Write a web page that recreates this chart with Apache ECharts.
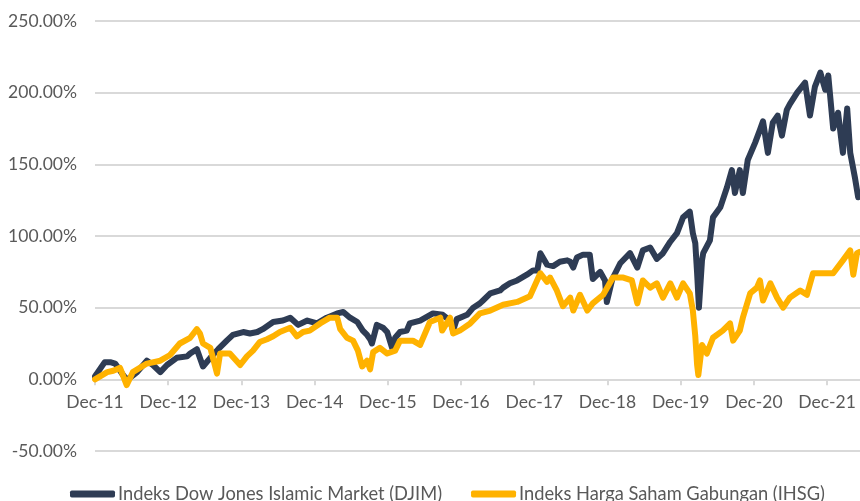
<!DOCTYPE html>
<html>
<head>
<meta charset="utf-8">
<script src="https://cdn.jsdelivr.net/npm/echarts@6/dist/echarts.min.js"></script>
<style>
  html, body { margin: 0; padding: 0; background: #fff; }
  #main { width: 860px; height: 501px; }
</style>
</head>
<body>
<div id="main"></div>
<script>
// months since Dec-11, cumulative return in %
var djim = [
  [0, 2], [0.3, 4], [1.6, 12], [2.5, 12], [3.3, 11], [4.6, 3], [5.2, 0], [5.7, 1], [6.9, 5],
  [8.5, 13], [9.5, 10], [10.7, 5], [11.8, 10], [13.4, 15], [15.1, 16], [15.6, 18], [16.7, 21],
  [17.7, 9], [18.9, 15], [20.2, 21], [21.6, 27], [22.6, 31], [24.3, 33], [25.4, 32], [26.6, 33],
  [27.5, 35], [29.2, 40], [30.8, 41], [32.0, 43], [33.3, 38], [34.8, 41], [36.4, 39], [38.0, 43],
  [39.7, 46], [40.7, 47], [41.8, 43], [43.0, 40], [43.9, 34], [44.6, 31], [45.1, 28], [45.4, 25],
  [46.2, 38], [47.2, 36], [47.9, 33], [48.7, 22], [49.2, 29], [50.0, 33], [51.1, 34], [51.6, 39],
  [53.3, 41], [55.4, 46], [57.0, 45], [58.2, 41], [58.7, 34], [59.3, 42], [61.0, 45], [62.0, 50],
  [63.1, 53], [63.6, 55], [64.8, 60], [66.4, 62], [66.9, 64], [68.0, 67], [69.2, 69], [70.8, 73],
  [71.8, 76], [72.5, 76], [73.0, 88], [74.1, 80], [75.1, 79], [76.2, 82], [77.4, 83], [77.9, 82],
  [78.4, 78], [79.0, 85], [80.0, 87], [81.1, 87], [81.6, 70], [82.8, 75], [83.6, 69], [83.9, 54],
  [84.8, 70], [86.1, 81], [87.7, 88], [88.9, 78], [89.8, 90], [91.0, 92], [92.1, 84], [93.1, 88],
  [94.3, 96], [95.4, 102], [96.4, 113], [97.5, 117], [98.0, 102], [98.4, 95], [98.7, 74],
  [99.0, 50], [99.5, 83], [99.7, 88], [100.8, 97], [101.3, 113], [102.5, 120], [103.6, 134],
  [104.4, 146], [104.9, 130], [105.7, 146], [106.2, 130], [107.0, 153], [108.2, 165], [109.0, 174],
  [109.5, 180], [110.3, 158], [111.1, 179], [111.9, 184], [112.6, 170], [113.4, 188], [113.9, 192],
  [115.1, 200], [116.4, 207], [117.2, 184], [118.0, 204], [118.9, 214], [119.7, 202], [120.2, 212],
  [121.0, 175], [121.8, 186], [122.6, 158], [123.3, 189], [123.8, 158], [124.6, 140], [125.1, 127]
];

var ihsg = [
  [0, 0], [0.3, 1], [2.0, 5], [3.0, 6], [4.1, 8], [5.2, -4], [6.2, 5], [8.5, 11], [10.7, 13],
  [12.3, 17], [13.9, 25], [15.6, 29], [16.7, 35], [17.2, 32], [17.7, 25], [18.9, 22], [20.0, 4],
  [20.5, 18], [22.1, 18], [23.8, 10], [24.9, 16], [25.9, 20], [27.0, 26], [28.2, 28], [29.2, 30],
  [30.3, 33], [32.0, 36], [33.1, 30], [34.1, 33], [35.2, 34], [36.9, 39], [38.5, 43], [39.7, 43],
  [40.2, 35], [41.3, 29], [42.3, 27], [43.1, 20], [43.8, 9], [44.6, 13], [45.1, 7], [45.6, 19],
  [46.7, 22], [47.9, 18], [49.2, 20], [50.0, 27], [51.1, 27], [52.1, 27], [53.3, 24], [54.9, 40],
  [56.6, 43], [56.9, 34], [58.2, 43], [58.7, 32], [59.8, 34], [61.5, 39], [63.1, 46], [64.8, 48],
  [66.9, 52], [69.2, 54], [71.3, 58], [73.0, 74], [74.1, 68], [74.6, 71], [75.7, 62], [76.7, 51],
  [77.9, 57], [78.4, 48], [79.5, 59], [80.7, 48], [81.6, 53], [83.3, 59], [84.9, 71], [86.6, 71],
  [88.0, 69], [88.9, 53], [89.8, 69], [91.0, 64], [92.1, 67], [93.1, 57], [94.3, 67], [95.4, 57],
  [96.4, 67], [97.5, 60], [98.0, 48], [98.4, 30], [98.7, 10], [98.9, 3], [99.5, 24], [100.3, 18],
  [101.3, 29], [102.9, 34], [104.1, 39], [104.6, 27], [105.7, 34], [106.2, 43], [107.4, 60],
  [108.5, 64], [109.0, 69], [109.5, 55], [110.7, 67], [111.8, 57], [112.8, 50], [113.9, 57],
  [115.6, 62], [116.7, 59], [117.7, 74], [119.3, 74], [121.0, 74], [122.6, 83], [123.8, 90],
  [124.3, 73], [124.9, 88], [125.4, 89]
];

var seriesNames = ['Indeks Dow Jones Islamic Market (DJIM)', 'Indeks Harga Saham Gabungan (IHSG)'];
var seriesColors = ['#2E3C54', '#FFB200'];
var yearLabels = ['Dec-11', 'Dec-12', 'Dec-13', 'Dec-14', 'Dec-15', 'Dec-16', 'Dec-17', 'Dec-18', 'Dec-19', 'Dec-20', 'Dec-21'];

var myChart = echarts.init(document.getElementById('main'));
var fontFamily = 'Lato, "Open Sans", sans-serif';

var option = {
  animation: false,
  grid: {
    left: 95,
    right: 0,
    top: 21,
    bottom: 50
  },
  xAxis: {
    type: 'value',
    min: 0,
    max: 125.4,
    interval: 12,
    // 轴放在0%那条线上 (430px高 / 300% * 50%)
    offset: -71.67,
    axisLine: {
      onZero: false,
      lineStyle: { color: '#d9d9d9', width: 2 }
    },
    axisTick: {
      show: true,
      length: 6,
      lineStyle: { color: '#d9d9d9', width: 2 }
    },
    splitLine: { show: false },
    axisLabel: {
      color: '#595959',
      fontSize: 17.5,
      fontFamily: fontFamily,
      margin: 14,
      showMaxLabel: false,
      formatter: function (v) {
        return yearLabels[Math.round(v / 12)] || '';
      }
    }
  },
  yAxis: {
    type: 'value',
    min: -50,
    max: 250,
    interval: 50,
    axisLine: { show: false },
    axisTick: { show: false },
    splitLine: {
      lineStyle: { color: '#d9d9d9', width: 2 }
    },
    axisLabel: {
      color: '#595959',
      fontSize: 17.5,
      fontFamily: fontFamily,
      margin: 18,
      formatter: function (v) {
        return v.toFixed(2) + '%';
      }
    }
  },
  legend: {
    top: 480,
    left: 65,
    itemWidth: 45,
    itemHeight: 7,
    itemGap: 29,
    icon: 'roundRect',
    textStyle: {
      color: '#595959',
      fontSize: 18.3,
      fontFamily: fontFamily,
      padding: [0, 0, 0, -2]
    },
    data: seriesNames
  },
  series: [
    {
      name: seriesNames[0],
      type: 'line',
      symbol: 'none',
      color: seriesColors[0],
      lineStyle: { width: 6, cap: 'round', join: 'round' },
      data: djim
    },
    {
      name: seriesNames[1],
      type: 'line',
      symbol: 'none',
      color: seriesColors[1],
      lineStyle: { width: 6, cap: 'round', join: 'round' },
      data: ihsg
    }
  ]
};

myChart.setOption(option);
</script>
</body>
</html>
